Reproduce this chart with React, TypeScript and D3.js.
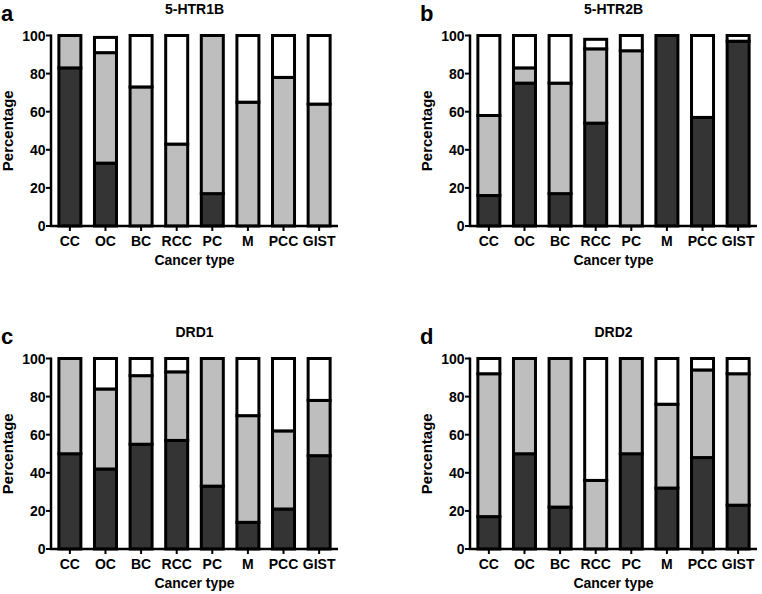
import React from "react";
import * as d3 from "d3";

const categories = ["CC", "OC", "BC", "RCC", "PC", "M", "PCC", "GIST"];
const yTicks = [0, 20, 40, 60, 80, 100];
const segmentKeys = ["dark", "gray", "white"];

// 5-HTR1B
const htr1bDark = [83, 33, 0, 0, 17, 0, 0, 0];
const htr1bGray = [17, 58, 73, 43, 83, 65, 78, 64];
const htr1bWhite = [0, 8, 27, 57, 0, 35, 22, 36];
// 5-HTR2B
const htr2bDark = [16, 75, 17, 54, 0, 100, 57, 97];
const htr2bGray = [42, 8, 58, 39, 92, 0, 0, 0];
const htr2bWhite = [42, 17, 25, 5, 8, 0, 43, 3];
// DRD1
const drd1Dark = [50, 42, 55, 57, 33, 14, 21, 49];
const drd1Gray = [50, 42, 36, 36, 67, 56, 41, 29];
const drd1White = [0, 16, 9, 7, 0, 30, 38, 22];
// DRD2
const drd2Dark = [17, 50, 22, 0, 50, 32, 48, 23];
const drd2Gray = [75, 50, 78, 36, 50, 44, 46, 69];
const drd2White = [8, 0, 0, 64, 0, 24, 6, 8];

const panels = [
  { letter: "a", title: "5-HTR1B", dark: htr1bDark, gray: htr1bGray, white: htr1bWhite, dx: 0, dy: 0 },
  { letter: "b", title: "5-HTR2B", dark: htr2bDark, gray: htr2bGray, white: htr2bWhite, dx: 419, dy: 0 },
  { letter: "c", title: "DRD1", dark: drd1Dark, gray: drd1Gray, white: drd1White, dx: 0, dy: 323 },
  { letter: "d", title: "DRD2", dark: drd2Dark, gray: drd2Gray, white: drd2White, dx: 419, dy: 323 },
];

const colors: Record<string, string> = { dark: "#343434", gray: "#bebebe", white: "#ffffff" };
const FONT = "'Liberation Sans', Arial, Helvetica, sans-serif";

function Panel({ p }: { p: any }) {
  const x0 = 51, x1 = 338, yBottom = 226, yTop = 35.5;
  const x = d3.scaleBand<string>().domain(categories).range([x0, x1]).paddingInner(0).paddingOuter(0.03);
  const y = d3.scaleLinear().domain([0, 100]).range([yBottom, yTop]);
  const rows = categories.map((c, i) => ({ cat: c, dark: p.dark[i], gray: p.gray[i], white: p.white[i] }));
  const stacked = d3.stack<any>().keys(segmentKeys)(rows);
  const barW = 22;
  const cx = (c: string) => (x(c) as number) + x.bandwidth() / 2;
  return (
    <g transform={`translate(${p.dx},${p.dy})`}>
      <text x={1} y={20.5} fontSize={22} fontWeight="bold" fontFamily={FONT}>{p.letter}</text>
      <text x={(x0 + x1) / 2} y={13.5} fontSize={14} fontWeight="bold" textAnchor="middle" fontFamily={FONT}>{p.title}</text>
      {stacked.map((layer) =>
        layer.map((d, i) => {
          const v = d[1] - d[0];
          if (v <= 0) return null;
          const c = categories[i];
          return (
            <rect
              key={layer.key + c}
              x={cx(c) - barW / 2}
              y={y(d[1])}
              width={barW}
              height={y(d[0]) - y(d[1])}
              fill={colors[layer.key]}
              stroke="#000"
              strokeWidth={3}
            />
          );
        })
      )}
      {/* y axis */}
      <line x1={x0} x2={x0} y1={y(0)} y2={y(100) - 1} stroke="#000" strokeWidth={2.5} />
      {yTicks.map((t) => (
        <g key={t}>
          <line x1={x0 - 5} x2={x0} y1={y(t)} y2={y(t)} stroke="#000" strokeWidth={2} />
          <text x={x0 - 5.5} y={y(t) + 5} fontSize={14} fontWeight="bold" textAnchor="end" fontFamily={FONT}>{t}</text>
        </g>
      ))}
      {/* x axis */}
      <line x1={x0 - 1} x2={x1} y1={yBottom} y2={yBottom} stroke="#000" strokeWidth={2.5} />
      {categories.map((c) => (
        <g key={c}>
          <line x1={cx(c)} x2={cx(c)} y1={yBottom} y2={yBottom + 5} stroke="#000" strokeWidth={2} />
          <text x={cx(c)} y={245.5} fontSize={14} fontWeight="bold" textAnchor="middle" fontFamily={FONT}>{c}</text>
        </g>
      ))}
      <text x={(x0 + x1) / 2} y={265} fontSize={14} fontWeight="bold" textAnchor="middle" fontFamily={FONT}>Cancer type</text>
      <text
        transform={`translate(12.5,${(yBottom + yTop) / 2}) rotate(-90)`}
        fontSize={15}
        fontWeight="bold"
        textAnchor="middle"
        fontFamily={FONT}
      >
        Percentage
      </text>
    </g>
  );
}

export default function App() {
  return (
    <svg
      width={762}
      height={594}
      style={{ position: "absolute", left: 0, top: 0, background: "#fff" }}
    >
      <rect width={762} height={594} fill="#fff" />
      {panels.map((p) => (
        <Panel key={p.letter} p={p} />
      ))}
    </svg>
  );
}
